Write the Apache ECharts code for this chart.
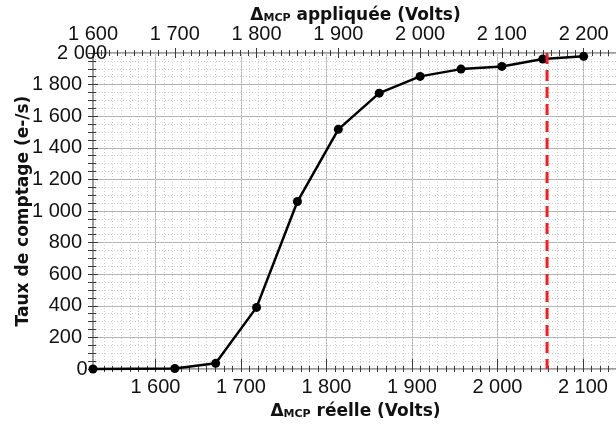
<!DOCTYPE html>
<html>
<head>
<meta charset="utf-8">
<script src="https://cdn.jsdelivr.net/npm/echarts@6/dist/echarts.min.js"></script>
<style>
html,body{margin:0;padding:0;background:#fff;}
#chart{width:616px;height:430px;}
</style>
</head>
<body>
<div id="chart"></div>
<script>
// ---- data ----
const appliedVolts = [1600, 1700, 1750, 1800, 1850, 1900, 1950, 2000, 2050, 2100, 2150, 2200];
const countRate    = [0, 3, 36, 390, 1060, 1517, 1746, 1852, 1898, 1915, 1962, 1979];
const redLineReal  = 2058;               // vertical dashed line, on the "réelle" axis
const topTicks     = [1600, 1700, 1800, 1900, 2000, 2100, 2200];
const bottomTicks  = [1600, 1700, 1800, 1900, 2000, 2100];
const yTicks       = [0, 200, 400, 600, 800, 1000, 1200, 1400, 1600, 1800, 2000];
const topRange     = [1600, 2242];
const bottomRange  = [1527, 2141];
const yRange       = [0, 2000];

function steps(a, b, s) { const r = []; for (let v = a; v <= b + 1e-9; v += s) r.push(Math.round(v)); return r; }
const topMinor = steps(1600, 2240, 10);
const bottomMinor = steps(1530, 2140, 10);

function fmt(v) { return String(v).replace(/\B(?=(\d{3})+(?!\d))/g, ' '); }

const AX = '#3a3a3a';
const tickFont = { fontFamily: 'Liberation Sans', fontSize: 20, color: '#111', alignMinLabel: 'center', alignMaxLabel: 'center' };
const nameRich = {
  d: { fontFamily: 'DejaVu Sans', fontWeight: 'bold', fontSize: 17, color: '#111' },
  s: { fontFamily: 'DejaVu Sans', fontWeight: 'bold', fontSize: 11, color: '#111', verticalAlign: 'bottom' },
  n: { fontFamily: 'DejaVu Sans', fontWeight: 'bold', fontSize: 17, color: '#111' }
};

const chart = echarts.init(document.getElementById('chart'), null, { renderer: 'canvas' });
chart.setOption({
  animation: false,
  backgroundColor: '#fff',
  grid: { left: 93, top: 53, right: -2, bottom: 61, containLabel: false, outerBoundsMode: 'none',
          show: true, borderColor: AX, borderWidth: 1, backgroundColor: 'transparent' },
  xAxis: [
    { // 0: bottom major (réelle)
      type: 'value', position: 'bottom', min: bottomRange[0], max: bottomRange[1], offset: 5,
      axisLine: { show: false },
      axisTick: { show: true, inside: true, length: 10, customValues: bottomTicks, lineStyle: { color: AX } },
      axisLabel: { customValues: bottomTicks, formatter: fmt, margin: 3, hideOverlap: false, ...tickFont },
      splitLine: { show: true, lineStyle: { color: '#b4b4b4', width: 1, type: 'solid' } },
      name: '{d|Δ}{s|MCP}{n| réelle (Volts)}', nameLocation: 'middle', nameGap: 29, nameMoveOverlap: false,
      nameTextStyle: { rich: nameRich }
    },
    { // 1: bottom minor
      type: 'value', position: 'bottom', min: bottomRange[0], max: bottomRange[1], offset: 3,
      axisLine: { show: false },
      axisTick: { show: true, inside: true, length: 6, customValues: bottomMinor, lineStyle: { color: AX } },
      axisLabel: { show: false },
      splitLine: { show: true, lineStyle: { color: '#cfcfcf', width: 1, type: [1, 2] } }
    },
    { // 2: top major (appliquée)
      type: 'value', position: 'top', min: topRange[0], max: topRange[1], offset: 5,
      axisLine: { show: false },
      axisTick: { show: true, inside: true, length: 10, customValues: topTicks, lineStyle: { color: AX } },
      axisLabel: { customValues: topTicks, formatter: fmt, margin: 4, hideOverlap: false, ...tickFont },
      splitLine: { show: false },
      name: '{d|Δ}{s|MCP}{n| appliquée (Volts)}', nameLocation: 'middle', nameGap: 24, nameMoveOverlap: false,
      nameTextStyle: { rich: nameRich }
    },
    { // 3: top minor
      type: 'value', position: 'top', min: topRange[0], max: topRange[1], offset: 3,
      axisLine: { show: false },
      axisTick: { show: true, inside: true, length: 6, customValues: topMinor, lineStyle: { color: AX } },
      axisLabel: { show: false },
      splitLine: { show: false }
    }
  ],
  yAxis: [
    {
      type: 'value', position: 'left', min: yRange[0], max: yRange[1], interval: 200, offset: 5,
      axisLine: { show: false },
      axisTick: { show: true, inside: true, length: 10, lineStyle: { color: AX } },
      minorTick: { show: true, splitNumber: 4, length: 8, lineStyle: { color: AX } },
      axisLabel: { formatter: fmt, margin: 6, hideOverlap: false, ...tickFont },
      splitLine: { show: true, lineStyle: { color: '#b4b4b4', width: 1 } },
      minorSplitLine: { show: true, lineStyle: { color: '#cfcfcf', width: 1, type: [1, 2] } },
      name: 'Taux de comptage (e-/s)', nameLocation: 'middle', nameGap: 56, nameMoveOverlap: false,
      nameTextStyle: { fontFamily: 'DejaVu Sans', fontWeight: 'bold', fontSize: 17, color: '#111' }
    }
  ],
  series: [
    {
      type: 'line', xAxisIndex: 2, yAxisIndex: 0,
      data: appliedVolts.map((v, i) => [v, countRate[i]]),
      symbol: 'circle', symbolSize: 9, clip: false,
      lineStyle: { color: '#000', width: 2.5 },
      itemStyle: { color: '#000' },
      z: 3
    },
    {
      type: 'line', xAxisIndex: 0, yAxisIndex: 0,
      data: [[redLineReal, yRange[1]], [redLineReal, yRange[0]]],
      symbol: 'none',
      lineStyle: { color: '#ff1a1a', width: 3, type: [11, 6] },
      z: 4
    }
  ]
});
</script>
</body>
</html>
